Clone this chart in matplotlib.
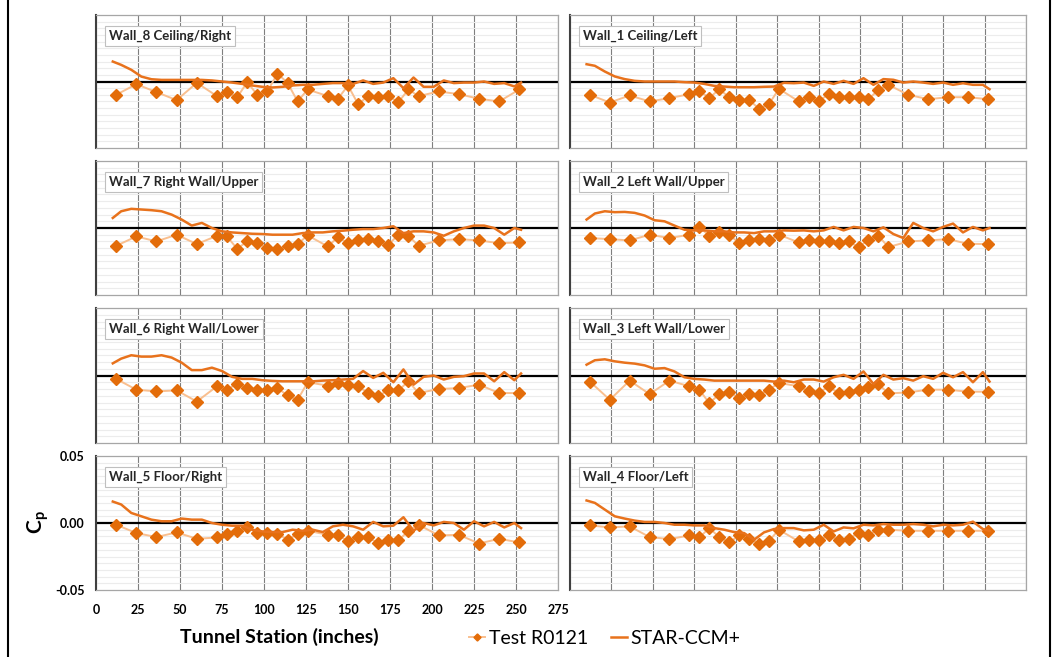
import matplotlib
matplotlib.use("Agg")
import matplotlib.pyplot as plt
from matplotlib.lines import Line2D

plt.rcParams['font.family'] = ['Lato', 'DejaVu Sans']
plt.rcParams['mathtext.fontset'] = 'custom'
plt.rcParams['mathtext.rm'] = 'Lato'
plt.rcParams['mathtext.bf'] = 'Lato:bold'

# tunnel stations (inches)
test_x = [12, 24, 36, 48, 60, 72, 78, 84, 90, 96, 102, 108, 114, 120, 126,
          138, 144, 150, 156, 162, 168, 174, 180, 186, 192, 204, 216, 228, 240, 252]
cfd_x = [10, 15, 21, 27, 33, 39, 45, 51, 57, 63, 69, 75, 81, 87, 93, 99, 105,
         111, 117, 123, 129, 135, 141, 147, 153, 159, 165, 171, 177, 183, 189,
         195, 201, 207, 213, 219, 225, 231, 237, 243, 249, 253]

# Test R0121 Cp per wall
test_w8 = [-0.010, -0.002, -0.008, -0.014, -0.001, -0.011, -0.008, -0.012, -0.0005, -0.010,
           -0.0075, 0.006, -0.001, -0.015, -0.006, -0.011, -0.013, -0.003, -0.017, -0.011,
           -0.012, -0.011, -0.0155, -0.006, -0.011, -0.0075, -0.0095, -0.013, -0.015, -0.006]
test_w1 = [-0.010, -0.0158, -0.0105, -0.015, -0.0125, -0.0095, -0.007, -0.0125, -0.0058, -0.0118,
           -0.0138, -0.0138, -0.0205, -0.017, -0.0055, -0.015, -0.012, -0.015, -0.0093, -0.0118,
           -0.0118, -0.0113, -0.0133, -0.0063, -0.0025, -0.010, -0.0133, -0.0118, -0.0118, -0.0133]
test_w7 = [-0.0133, -0.0063, -0.010, -0.005, -0.012, -0.0058, -0.0063, -0.0155, -0.010, -0.0113,
           -0.015, -0.0158, -0.0138, -0.012, -0.0055, -0.0138, -0.0068, -0.0113, -0.0093, -0.008,
           -0.010, -0.0125, -0.005, -0.0058, -0.0133, -0.0093, -0.0083, -0.0093, -0.0113, -0.0108]
test_w2 = [-0.0075, -0.0083, -0.0093, -0.005, -0.0075, -0.005, 0.0008, -0.0058, -0.0033, -0.005,
           -0.0113, -0.0093, -0.0083, -0.0093, -0.005, -0.0108, -0.0088, -0.010, -0.010, -0.0113,
           -0.010, -0.0143, -0.0088, -0.0058, -0.0143, -0.010, -0.0093, -0.0083, -0.0118, -0.012]
test_w6 = [-0.0025, -0.0105, -0.0118, -0.011, -0.0193, -0.008, -0.0105, -0.006, -0.0093, -0.011,
           -0.011, -0.0093, -0.0148, -0.018, -0.005, -0.0075, -0.0055, -0.0068, -0.008, -0.013,
           -0.0155, -0.0105, -0.011, -0.0043, -0.013, -0.010, -0.0093, -0.0068, -0.013, -0.013]
test_w3 = [-0.0045, -0.018, -0.0038, -0.0138, -0.0038, -0.008, -0.0105, -0.0205, -0.0138, -0.012,
           -0.0168, -0.0138, -0.0143, -0.0105, -0.0055, -0.008, -0.0118, -0.013, -0.008, -0.0133,
           -0.012, -0.0105, -0.0088, -0.0063, -0.0133, -0.0125, -0.0105, -0.0105, -0.012, -0.012]
test_w5 = [-0.0013, -0.0075, -0.0105, -0.007, -0.0118, -0.0108, -0.0083, -0.0063, -0.0033, -0.0075,
           -0.0075, -0.008, -0.0125, -0.0083, -0.0058, -0.0088, -0.0093, -0.0133, -0.0108, -0.0108,
           -0.015, -0.0125, -0.013, -0.0058, -0.0013, -0.0093, -0.0088, -0.0153, -0.0118, -0.0145]
test_w4 = [-0.0018, -0.0033, -0.0025, -0.0105, -0.012, -0.0093, -0.0108, -0.0038, -0.0105, -0.0145,
           -0.0093, -0.012, -0.0155, -0.0133, -0.005, -0.0138, -0.0125, -0.013, -0.0093, -0.0125,
           -0.0118, -0.0075, -0.0088, -0.005, -0.005, -0.0058, -0.0058, -0.0058, -0.0058, -0.0058]

# STAR-CCM+ Cp per wall
cfd_w8 = [0.015, 0.0125, 0.0088, 0.0037, 0.0017, 0.0012, 0.0012, 0.0012, 0.0012, 0.0012,
          0.0008, 0.0, -0.0008, -0.0018, -0.003, -0.004, -0.0045, -0.004, -0.003, -0.0025,
          -0.0025, -0.0018, -0.0012, -0.0012, -0.0018, 0.0008, -0.0018, -0.0008, 0.0025, -0.005,
          0.003, -0.004, -0.004, 0.0008, -0.0012, -0.0008, -0.0008, 0.0, -0.0018, -0.0012,
          -0.0037, -0.0008]
cfd_w1 = [0.013, 0.0118, 0.0075, 0.0038, 0.0018, 0.0005, 0.0, 0.0, 0.0, 0.0,
          -0.0005, -0.0008, -0.0018, -0.0033, -0.0038, -0.0043, -0.0043, -0.0043, -0.004, -0.0038,
          -0.001, -0.0013, -0.0008, -0.0033, 0.0, -0.0018, 0.0005, -0.0018, 0.0025, -0.0025,
          0.0018, 0.0013, -0.0008, 0.0, -0.0008, -0.0018, -0.0008, -0.0025, -0.0013, -0.0025,
          -0.0025, -0.0058]
cfd_w7 = [0.0075, 0.0125, 0.0143, 0.0138, 0.0133, 0.0125, 0.010, 0.0063, 0.0018, 0.0038,
          0.0, -0.0025, -0.0033, -0.0038, -0.0043, -0.0045, -0.005, -0.005, -0.005, -0.0038,
          -0.0033, -0.0033, -0.0025, -0.002, -0.0013, -0.0008, -0.0008, 0.0, 0.0013, -0.0038,
          -0.0025, -0.0025, -0.0033, -0.0058, -0.0025, 0.0, 0.0018, 0.0018, 0.0, -0.005,
          0.0, -0.0013]
cfd_w2 = [0.0063, 0.0108, 0.0125, 0.0118, 0.012, 0.0113, 0.0093, 0.0058, 0.005, 0.0018,
          -0.0013, -0.0018, -0.0018, -0.0025, -0.0025, -0.0033, -0.0033, -0.0038, -0.0025, -0.0025,
          -0.0018, -0.002, -0.0018, -0.0025, -0.0018, 0.0008, -0.0018, 0.0008, 0.0, -0.0025,
          0.0005, -0.0045, -0.0075, 0.0038, 0.0, -0.0025, 0.0008, 0.0033, -0.0033, 0.0008,
          -0.0018, 0.0]
cfd_w6 = [0.009, 0.0125, 0.015, 0.014, 0.014, 0.015, 0.0133, 0.0095, 0.004, 0.004,
          0.0058, 0.0033, -0.001, -0.0025, -0.0025, -0.0035, -0.004, -0.0043, -0.0043, -0.0043,
          -0.0043, -0.0038, -0.0035, -0.003, -0.0025, 0.0033, -0.0018, 0.002, -0.005, 0.0045,
          -0.0068, -0.001, 0.0, -0.003, -0.001, -0.0005, 0.0015, 0.0015, -0.0043, 0.0025,
          -0.0035, 0.0015]
cfd_w3 = [0.008, 0.0113, 0.012, 0.0105, 0.0095, 0.0088, 0.0075, 0.005, 0.0055, 0.003,
          -0.0013, -0.0025, -0.003, -0.0038, -0.0038, -0.0038, -0.0038, -0.0038, -0.0038, -0.0045,
          -0.0038, -0.005, -0.003, -0.003, -0.0045, -0.0013, 0.0005, -0.0025, 0.003, -0.0063,
          0.0005, -0.003, -0.002, -0.0038, -0.0005, -0.0025, 0.002, -0.0013, 0.0025, -0.005,
          0.0025, -0.0045]
cfd_w5 = [0.016, 0.0138, 0.0075, 0.005, 0.0025, 0.0013, 0.0013, 0.0033, 0.0025, 0.0025,
          0.0, -0.0013, -0.002, -0.002, -0.005, -0.0063, -0.0068, -0.0068, -0.005, -0.0058,
          -0.005, -0.0068, -0.0025, -0.0013, -0.0025, -0.005, 0.0008, -0.0025, -0.002, 0.0043,
          -0.0058, 0.0, -0.0018, 0.0008, 0.0, -0.005, 0.0013, -0.0025, 0.0008, -0.0033,
          0.0, -0.0038]
cfd_w4 = [0.0168, 0.015, 0.010, 0.005, 0.0033, 0.0018, 0.0008, 0.0008, 0.0, -0.0013,
          -0.0013, -0.0018, -0.0018, -0.0038, -0.005, -0.0068, -0.0075, -0.0125, -0.007, -0.0045,
          -0.0038, -0.0038, -0.0055, -0.005, -0.0013, -0.0063, -0.0033, -0.004, -0.0013, -0.0018,
          -0.0008, -0.0013, -0.0013, -0.0008, -0.0013, -0.0025, -0.0013, -0.0018, -0.0013, 0.001,
          -0.0045, -0.0058]

titles = ["Wall_8 Ceiling/Right", "Wall_1 Ceiling/Left",
          "Wall_7 Right Wall/Upper", "Wall_2 Left Wall/Upper",
          "Wall_6 Right Wall/Lower", "Wall_3 Left Wall/Lower",
          "Wall_5 Floor/Right", "Wall_4 Floor/Left"]
tests = [test_w8, test_w1, test_w7, test_w2, test_w6, test_w3, test_w5, test_w4]
cfds = [cfd_w8, cfd_w1, cfd_w7, cfd_w2, cfd_w6, cfd_w3, cfd_w5, cfd_w4]
x_ticks = list(range(0, 276, 25))
y_ticks = [-0.05, 0.0, 0.05]

W, H = 1060, 657
fig = plt.figure(figsize=(W / 100, H / 100), dpi=100)

col_px = [(96, 558), (570, 1026)]
row_px = [(15, 148), (161, 295), (308, 443), (456, 590)]

test_line = '#F9BF8F'
test_mark = '#E36C09'
cfd_col = '#E8721C'

axes = []
for i in range(8):
    r, c = divmod(i, 2)
    x0, x1 = col_px[c]
    y0, y1 = row_px[r]
    ax = fig.add_axes([x0 / W, 1 - y1 / H, (x1 - x0) / W, (y1 - y0) / H])
    axes.append(ax)
    ax.set_xlim(0, 275)
    ax.set_ylim(-0.05, 0.05)
    ax.set_xticks(x_ticks)
    ax.set_yticks(y_ticks)
    ax.set_yticks([v / 1000 for v in range(-45, 50, 5)], minor=True)
    ax.grid(True, axis='x', which='major', color='#7F7F7F', lw=0.8)
    ax.grid(True, axis='y', which='minor', color='#ECECEC', lw=0.8)
    ax.set_axisbelow(True)
    ax.tick_params(length=0, which='both')
    for s in ['top', 'right', 'bottom']:
        ax.spines[s].set_color('#A6A6A6')
        ax.spines[s].set_linewidth(0.9)
    ax.spines['left'].set_color('#404040')
    ax.spines['left'].set_linewidth(1.5)
    ax.axhline(0, color='black', lw=1.6, zorder=1.5)

    ax.plot(test_x, tests[i], color=test_line, lw=1.4, marker='D', ms=6,
            mfc=test_mark, mec=test_mark, zorder=3, label='Test R0121')
    ax.plot(cfd_x, cfds[i], color=cfd_col, lw=1.8, zorder=4, label='STAR-CCM+')

    ax.text(0.028, 0.845, titles[i], transform=ax.transAxes, fontsize=9.5,
            fontweight='bold', color='#262626', va='center', ha='left', zorder=6,
            bbox=dict(boxstyle='square,pad=0.3', fc='white', ec='#BFBFBF', lw=0.8))

    if i == 6:
        ax.set_xticklabels([str(t) for t in x_ticks], fontsize=9, fontweight='bold')
        ax.set_yticklabels(['%.2f' % t for t in y_ticks], fontsize=9, fontweight='bold')
        ax.tick_params(axis='x', pad=10)
        ax.tick_params(axis='y', pad=8)
    else:
        ax.set_xticklabels([])
        ax.set_yticklabels([])

fig.text(279 / W, 1 - 637 / H, 'Tunnel Station (inches)', fontsize=14,
         fontweight='bold', ha='center', va='center')
fig.text(38 / W, 1 - 522 / H, r'$\mathbf{C_p}$', fontsize=15, rotation=90,
         ha='center', va='center')

handles, labels = axes[0].get_legend_handles_labels()
fig.legend(handles, labels, loc='center', bbox_to_anchor=(605 / W, 1 - 638 / H),
           ncol=2, frameon=False, fontsize=14, handlelength=0.8,
           handletextpad=0.2, columnspacing=1.2, markerscale=0.6)

for xp in (8, 1050):
    fig.add_artist(Line2D([xp / W, xp / W], [0, 1], transform=fig.transFigure,
                          color='black', lw=1.5))

fig.savefig('out.png', dpi=100)
